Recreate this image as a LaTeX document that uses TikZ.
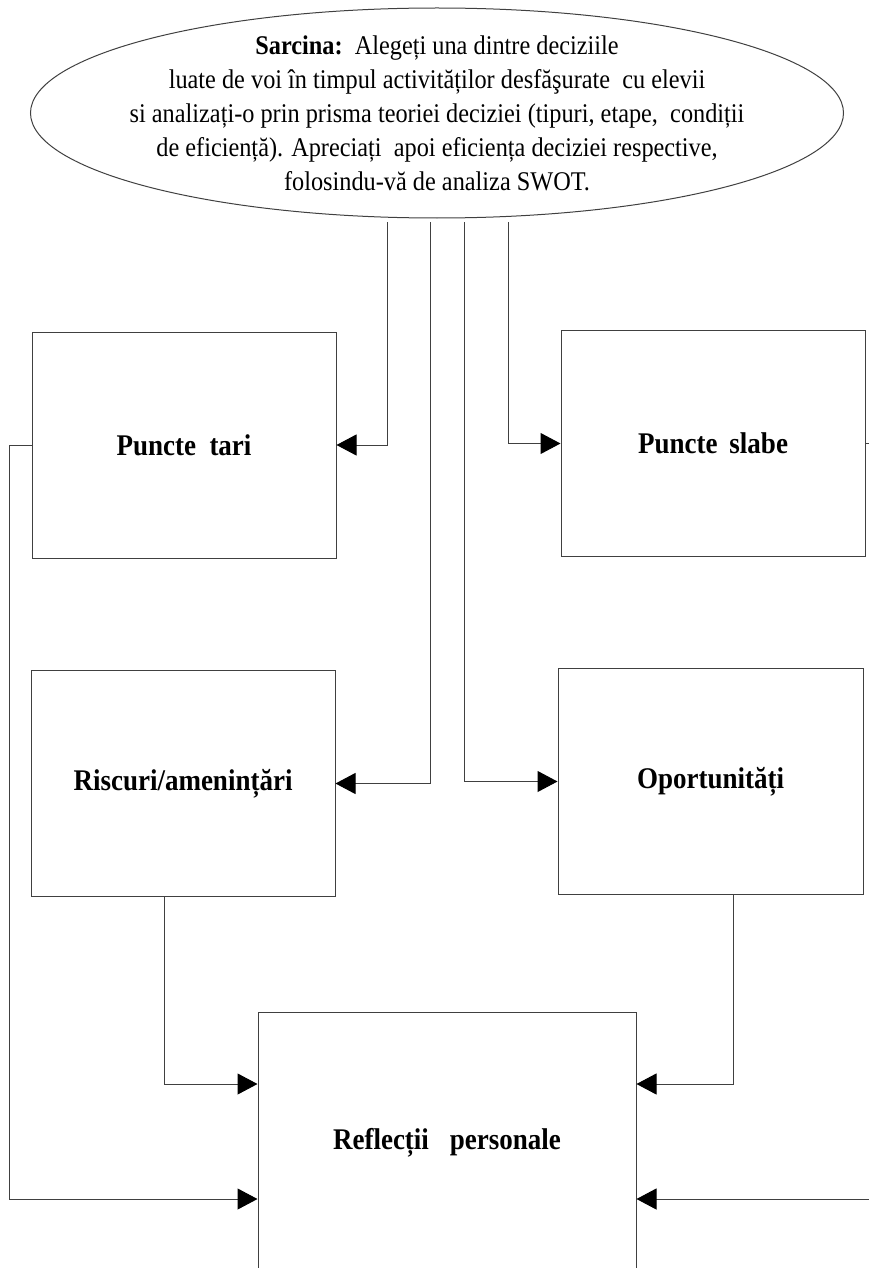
\documentclass[tikz,border=0pt]{standalone}
\usepackage{fontspec}
\setmainfont{Liberation Serif}[FakeStretch=0.9]
\usetikzlibrary{arrows.meta,shapes.geometric}
\definecolor{lineGray}{HTML}{404040}

\begin{document}
\begin{tikzpicture}[x=1pt, y=-1pt, >={Triangle[length=20pt, width=21pt, color=black]},
    box/.style={draw=lineGray, line width=1pt, minimum width=304pt, minimum height=226pt, inner sep=0pt, font=\fontsize{30}{34}\selectfont\bfseries},
    task/.style={ellipse, draw=lineGray, line width=1pt, minimum width=813pt, minimum height=210pt, inner sep=0pt},
    link/.style={->, draw=lineGray, line width=1pt}]
  \useasboundingbox (0,0) rectangle (869,1268);
  % task on top
  \node[task] (task) at (437,113) {};
  \node[align=center, font=\fontsize{27}{34}\selectfont] (taskText) at (task.center)
    {\textbf{Sarcina:}\ \ Alegeți una dintre deciziile\\
     luate de voi în timpul activităților desfăşurate\ \ cu elevii\\
     si analizați-o prin prisma teoriei deciziei (tipuri, etape,\ \ condiții\\
     de eficiență). Apreciați\ \ apoi eficiența deciziei respective,\\
     folosindu-vă de analiza SWOT.};
  % SWOT boxes
  \node[box] (tari) at (184,445) {Puncte\hspace{0.45em}tari};
  \node[box] (slabe) at (713,443.5) {Puncte\hspace{0.4em}slabe};
  \node[box] (risc) at (183,783.5) {Riscuri/amenințări};
  \node[box, minimum width=305pt] (oport) at (710.5,781.5) {Oportunități};
  \node[box, minimum width=378pt, minimum height=262pt] (refl) at (447,1143) {Reflecții\hspace{0.7em}personale};
  % lines out of the task
  \coordinate (t1) at (387,222);
  \coordinate (t2) at (430,222);
  \coordinate (t3) at (464,222);
  \coordinate (t4) at (508,222);
  \draw[link] (t1) |- (tari.east);
  \draw[link] (t4) |- (slabe.west);
  \draw[link] (t2) |- (risc.east);
  \draw[link] (t3) |- (oport.west);
  % into the reflection box
  \draw[link] ([xshift=-19pt]risc.south) |- ([yshift=59pt]refl.west);
  \draw[link] ([xshift=23pt]oport.south) |- ([yshift=59pt]refl.east);
  \draw[link] (tari.west) -- ++(-22,0) |- ([yshift=-56pt]refl.west);
  \draw[link] (slabe.east) -- ++(25,0) |- ([yshift=-56pt]refl.east);
\end{tikzpicture}
\end{document}
